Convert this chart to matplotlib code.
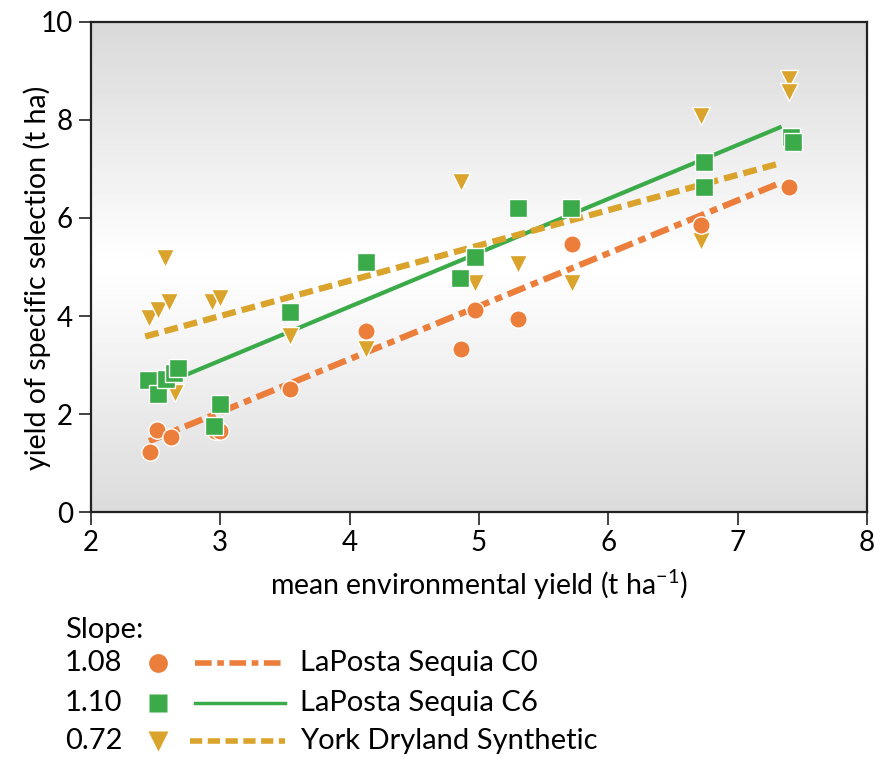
import numpy as np
import matplotlib
matplotlib.use("Agg")
import matplotlib.pyplot as plt
from matplotlib.lines import Line2D

plt.rcParams['font.family'] = ['Lato', 'DejaVu Sans']

# --- data ---
c0_x = [2.46, 2.51, 2.62, 2.96, 3.00, 3.54, 4.13, 4.86, 4.97, 5.30, 5.72, 6.72, 7.40]
c0_y = [1.23, 1.68, 1.53, 1.66, 1.66, 2.52, 3.69, 3.32, 4.12, 3.94, 5.46, 5.86, 6.63]

c6_x = [2.44, 2.52, 2.58, 2.64, 2.67, 2.95, 3.00, 3.54, 4.13, 4.85, 4.97, 5.30, 5.71, 6.74, 6.74, 7.41, 7.43]
c6_y = [2.70, 2.41, 2.72, 2.83, 2.93, 1.75, 2.20, 4.09, 5.11, 4.77, 5.20, 6.21, 6.21, 6.64, 7.15, 7.65, 7.56]

york_x = [2.45, 2.52, 2.60, 2.57, 2.65, 2.94, 3.00, 3.54, 4.13, 4.86, 4.97, 5.30, 5.72, 6.72, 6.72, 7.40, 7.40]
york_y = [3.95, 4.12, 4.29, 5.18, 2.42, 4.29, 4.36, 3.59, 3.32, 6.74, 4.67, 5.07, 4.67, 8.08, 5.54, 8.83, 8.58]

slopes = [1.08, 1.10, 0.72]
intercepts = [-1.20, -0.21, 1.84]
line_x_start = [2.45, 2.45, 2.42]
line_x_end = [7.34, 7.34, 7.33]
series_names = ["LaPosta Sequia C0", "LaPosta Sequia C6", "York Dryland Synthetic"]
slope_labels = ["1.08", "1.10", "0.72"]

x_ticks = [2, 3, 4, 5, 6, 7, 8]
y_ticks = [0, 2, 4, 6, 8, 10]

# --- style ---
colors = ["#EC7E3C", "#3BAA48", "#D9A32C"]
markers = ["o", "s", "v"]
msizes = [12.5, 12.5, 13.5]
dash_styles = [(0, (3.0, 1.0, 1.2, 1.0)), "-", (0, (2.2, 1.0))]
line_widths = [4.5, 3.0, 4.5]

fig = plt.figure(figsize=(8.74, 7.57), dpi=100)
ax = fig.add_axes([0.104, 0.3236, 0.888, 0.6474])

ax.set_xlim(2, 8)
ax.set_ylim(0, 10)

# gradient background
grad = np.concatenate([np.linspace(0.85, 1.0, 60), np.linspace(1.0, 0.86, 60)])
img = np.tile(grad[:, None], (1, 2))
ax.imshow(img, cmap="gray", vmin=0, vmax=1, extent=[2, 8, 0, 10],
          aspect="auto", zorder=0, interpolation="bicubic")

xs_list = [c0_x, c6_x, york_x]
ys_list = [c0_y, c6_y, york_y]

for i in range(3):
    lx = np.array([line_x_start[i], line_x_end[i]])
    ly = intercepts[i] + slopes[i] * lx
    ax.plot(lx, ly, color=colors[i], lw=line_widths[i], linestyle=dash_styles[i],
            zorder=2, solid_capstyle="butt", dash_capstyle="butt")

for i in [2, 0, 1]:
    ax.plot(xs_list[i], ys_list[i], linestyle="none", marker=markers[i],
            markersize=msizes[i], markerfacecolor=colors[i],
            markeredgecolor="white", markeredgewidth=1.0, zorder=3)

for s in ax.spines.values():
    s.set_color("#222222")
    s.set_linewidth(1.6)

ax.set_xticks(x_ticks)
ax.set_yticks(y_ticks)
ax.tick_params(axis="both", direction="out", length=9, width=1.2,
               labelsize=20, color="#222222", pad=4)
ax.set_xlabel("mean environmental yield (t ha$^{\\mathregular{-1}}$)", fontsize=20.5, labelpad=8)
ax.set_ylabel("yield of specific selection (t ha)", fontsize=20.5)
ax.yaxis.set_label_coords(-0.052, 0.477)

# legend block
fs = 21
fig.text(65 / 874, 1 - 630 / 757, "Slope:", fontsize=fs, va="center", ha="left")
row_y = [663, 703, 741]
for i in range(3):
    yy = 1 - row_y[i] / 757
    fig.text(65 / 874, yy, slope_labels[i], fontsize=fs, va="center", ha="left")
    fig.add_artist(Line2D([158 / 874], [yy], marker=markers[i], markersize=msizes[i] + 1,
                          markerfacecolor=colors[i], markeredgecolor="none",
                          linestyle="none", transform=fig.transFigure))
    lx0 = (190 if i == 2 else 195) / 874
    fig.add_artist(Line2D([lx0, 285 / 874], [yy, yy], color=colors[i],
                          lw=line_widths[i] - 0.5, linestyle=dash_styles[i],
                          transform=fig.transFigure))
    fig.text(300 / 874, yy, series_names[i], fontsize=fs, va="center", ha="left")

fig.savefig("out.png", dpi=100)
